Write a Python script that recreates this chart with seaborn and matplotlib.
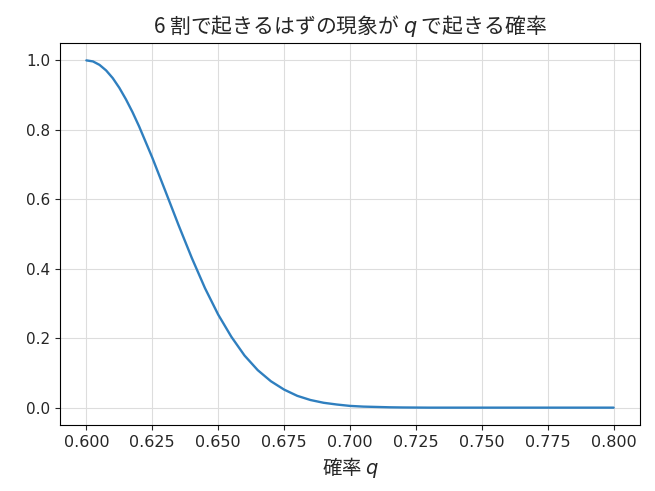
import numpy as np
import pandas as pd
import matplotlib
matplotlib.use("Agg")
import matplotlib.pyplot as plt
import seaborn as sns

# values
q_values = [0.600, 0.6025, 0.605, 0.6075, 0.610, 0.6125, 0.615, 0.6175, 0.620, 0.625,
            0.630, 0.635, 0.640, 0.645, 0.650, 0.655, 0.660, 0.665, 0.670, 0.675,
            0.680, 0.685, 0.690, 0.695, 0.700, 0.705, 0.710, 0.715, 0.720, 0.730,
            0.740, 0.750, 0.760, 0.770, 0.780, 0.790, 0.800]
prob_values = [1.000, 0.997, 0.987, 0.971, 0.949, 0.921, 0.888, 0.851, 0.810, 0.720,
               0.623, 0.525, 0.431, 0.344, 0.268, 0.204, 0.150, 0.108, 0.076, 0.052,
               0.034, 0.022, 0.014, 0.009, 0.005, 0.003, 0.002, 0.001, 0.0005, 0.0,
               0.0, 0.0, 0.0, 0.0, 0.0, 0.0, 0.0]

df = pd.DataFrame({"q": q_values, "prob": prob_values})

sns.set_style("ticks")
plt.rcParams["font.family"] = ["DejaVu Sans", "Noto Sans CJK JP"]
plt.rcParams["mathtext.fontset"] = "dejavusans"

fig = plt.figure(figsize=(6.55, 4.91), dpi=100)
ax = fig.add_axes([0.0916, 0.1344, 0.8855, 0.778])

sns.lineplot(data=df, x="q", y="prob", ax=ax, color="#2f7fbf", linewidth=1.7)

cjk = ["Noto Sans CJK JP", "DejaVu Sans"]
ax.set_title("6 割で起きるはずの現象が $q$ で起きる確率", fontsize=15, family=cjk, pad=7)
ax.set_xlabel("確率 $q$", fontsize=14, family=cjk)
ax.set_ylabel("")
ax.set_xticks([0.600, 0.625, 0.650, 0.675, 0.700, 0.725, 0.750, 0.775, 0.800])
ax.set_xticklabels([f"{t:.3f}" for t in ax.get_xticks()])
ax.set_yticks([0.0, 0.2, 0.4, 0.6, 0.8, 1.0])
ax.set_yticklabels([f"{t:.1f}" for t in ax.get_yticks()])
ax.tick_params(axis="x", labelsize=11.5)
ax.tick_params(axis="y", labelsize=11)
ax.grid(True, color="#dddddd", linewidth=0.8)
for s in ax.spines.values():
    s.set_color("black")

fig.savefig("out.png", dpi=100)
